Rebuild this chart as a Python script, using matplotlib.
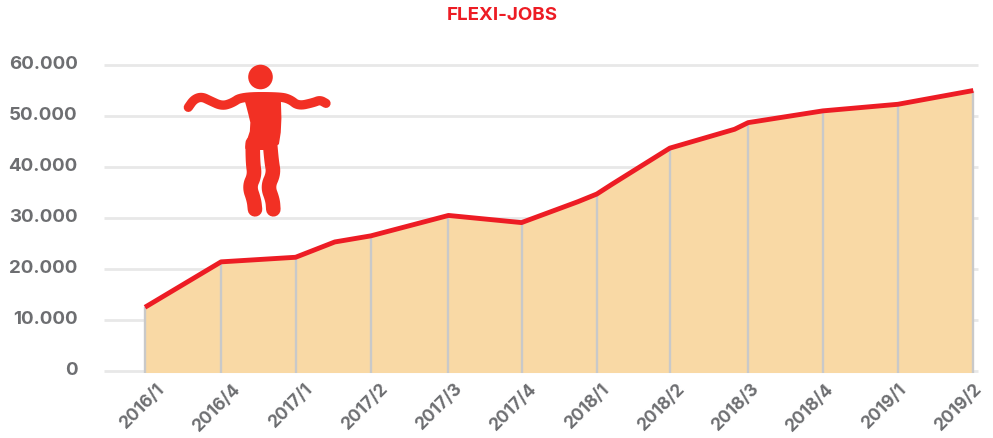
import numpy as np
import matplotlib
matplotlib.use('Agg')
import matplotlib.pyplot as plt
from matplotlib.patches import Circle, Polygon
from matplotlib.transforms import ScaledTranslation

plt.rcParams['font.family'] = ['Inter', 'DejaVu Sans']

# tick categories and the values read at them
labels = ['2016/1', '2016/4', '2017/1', '2017/2', '2017/3', '2017/4',
          '2018/1', '2018/2', '2018/3', '2018/4', '2019/1', '2019/2']
tick_x = [0, 1.01, 2, 3, 4.03, 5, 6, 6.97, 8.01, 9, 10, 11]
tick_values = [12500, 21400, 22300, 26500, 30500, 29100,
               34700, 43700, 48700, 51000, 52300, 55000]

# the line has a few extra points between the labelled ones
line_x = [0, 1.01, 2, 2.52, 3, 4.03, 5, 5.75, 6, 6.2, 6.97, 7.83, 8.01, 9, 10, 11]
line_y = [12500, 21400, 22300, 25300, 26500, 30500, 29100, 33200,
          34700, 36600, 43700, 47400, 48700, 51000, 52300, 55000]

yticks = [0, 10000, 20000, 30000, 40000, 50000, 60000]
ylabels = ['0', '10.000', '20.000', '30.000', '40.000', '50.000', '60.000']

W, H = 993, 438
fig = plt.figure(figsize=(W / 100, H / 100), dpi=100)

# axes placed so that gridlines run from x=104 to x=978, y=0 at 371 and 60000 at 65
ax = fig.add_axes([104 / W, (H - 371) / H, (978 - 104) / W, (371 - 65) / H])
ax.set_xlim((104 - 145) / 75.3, (978 - 145) / 75.3)
ax.set_ylim(0, 60000)
ax.patch.set_alpha(0)

for s in ax.spines.values():
    s.set_visible(False)

for v in yticks:
    ax.axhline(v, color='#e8e8e8', lw=2, zorder=1, clip_on=False, solid_capstyle='butt')

ax.fill_between(line_x, -300, line_y, color='#f9d9a5', lw=0, zorder=2, clip_on=False)
ax.vlines(tick_x, -300, tick_values, color='#c9c9c9', lw=1.7, zorder=3, clip_on=False)
ax.plot(line_x, line_y, color='#ed1c24', lw=3.5, zorder=4, solid_capstyle='butt', solid_joinstyle='round')

ax.set_yticks(yticks)
ax.set_yticklabels(ylabels, fontsize=13.5, fontweight='bold', color='#6d6e71')
ax.tick_params(axis='y', length=0, pad=19)
shift = ScaledTranslation(0, 2.5 / 100, fig.dpi_scale_trans)
for t in ax.get_yticklabels():
    t.set_transform(t.get_transform() + shift)

# labels sit on a slightly tighter spacing than the drop lines
ax.set_xticks((np.arange(12) * 74.2 - 3) / 75.3)
ax.set_xticklabels(labels, rotation=45, ha='center', fontsize=12.5, fontweight='bold', color='#6d6e71')
ax.tick_params(axis='x', length=0, pad=7)

fig.text(502 / W, 1 - 15 / H, 'FLEXI-JOBS', color='#ed1c24', fontsize=13.5,
         fontweight='bold', ha='center', va='center')

# little figure, drawn in pixel coordinates on an overlay
ov = fig.add_axes([0, 0, 1, 1])
ov.set_xlim(0, W)
ov.set_ylim(H, 0)
ov.axis('off')
red = '#f23024'


def smooth(pts, n=3, closed=False):
    # chaikin corner cutting, then zoomed crop coords back to picture pixels
    p = np.array(pts, dtype=float)
    for _ in range(n):
        q = np.roll(p, -1, axis=0) if closed else p[1:]
        a = p if closed else p[:-1]
        new = np.empty((len(a) * 2, 2))
        new[0::2] = 0.75 * a + 0.25 * q
        new[1::2] = 0.25 * a + 0.75 * q
        p = new if closed else np.vstack([p[0], new, p[-1]])
    return 170 + p[:, 0] / 3, 50 + p[:, 1] / 3


ov.add_patch(Circle((260.5, 77), 12.3, color=red, lw=0))
arm = [(55, 172), (72, 148), (95, 140), (120, 152), (155, 168), (185, 160), (215, 140),
       (330, 140), (360, 148), (385, 168), (430, 158), (450, 150), (468, 160)]
ov.plot(*smooth(arm), color=red, lw=6.7, solid_capstyle='round', solid_joinstyle='round')
torso = [(218, 130), (332, 130), (335, 230), (324, 300), (226, 300), (226, 285), (244, 230), (232, 180)]
x, y = smooth(torso, n=1, closed=True)
ov.add_patch(Polygon(np.column_stack([x, y]), color=red, lw=0))
leg1 = [(248, 280), (249, 340), (254, 375), (238, 410), (252, 450), (255, 478)]
leg2 = [(300, 280), (305, 335), (311, 370), (293, 410), (308, 450), (310, 478)]
ov.plot(*smooth(leg1), color=red, lw=10.5, solid_capstyle='round', solid_joinstyle='round')
ov.plot(*smooth(leg2), color=red, lw=10.5, solid_capstyle='round', solid_joinstyle='round')

fig.savefig('out.png', dpi=100)
